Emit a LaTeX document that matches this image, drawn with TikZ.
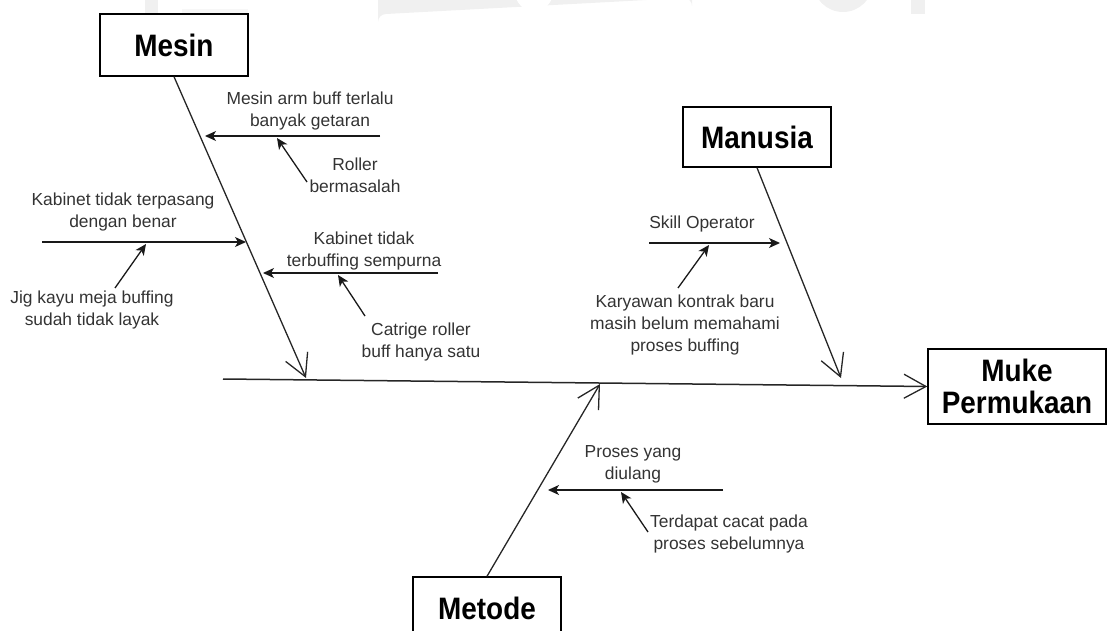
\documentclass[tikz,border=0pt]{standalone}
\usepackage{fontspec}
\setmainfont{Liberation Sans}
\newfontfamily\titlefont[FakeStretch=0.9]{Liberation Sans}
\usetikzlibrary{arrows.meta}
\begin{document}
\begin{tikzpicture}[x=1pt,y=-1pt,
  titlebox/.style={draw=black, line width=1.4pt, fill=white, inner sep=0pt,
    font=\titlefont\fontsize{31}{32}\selectfont\bfseries, align=center},
  cause/.style={font=\fontsize{17.4}{22}\selectfont, text=black!80,
    align=center, inner sep=0pt},
  spine/.style={line width=1.3pt, draw=black!85,
    -{Straight Barb[length=22pt,width=24pt,line width=1.3pt]}},
  branch/.style={line width=1.3pt, draw=black!90,
    -{Stealth[length=11pt,width=10pt,inset=3pt]}},
  logofill/.style={fill=black!6, draw=none}]
\useasboundingbox (0,0) rectangle (1109,631);
\clip (0,0) rectangle (1109,631);

% faint logo in the top margin
\fill[logofill] (145,0) rectangle (158,14);
\fill[black!3] (182,9) rectangle (248,14);
\fill[logofill] (378,0) -- (692,0) -- (692,6) arc[start angle=0,end angle=-90,radius=8]
  -- (386,14) arc[start angle=-90,end angle=-180,radius=8] -- cycle;
\fill[white] (534,-8) circle[radius=19];
\fill[logofill] (843,-18) circle[radius=30];
\fill[logofill] (911,0) rectangle (925,14);

% category boxes and effect box
\node[titlebox, minimum width=148pt, minimum height=62pt] (mesin) at (174,45) {Mesin};
\node[titlebox, minimum width=148pt, minimum height=60pt] (manusia) at (757,137) {Manusia};
\node[titlebox, minimum width=178pt, minimum height=75pt] (muke) at (1017,386.5) {Muke\\Permukaan};
\node[titlebox, minimum width=148pt, minimum height=62pt] (metode) at (487,608) {Metode};

% backbone
\coordinate (tail) at (223,379);
\draw[spine, line width=1.5pt] (tail) -- (muke.west);

% category spines
\coordinate (mesintip) at (306,378);
\coordinate (manusiatip) at (841,378);
\coordinate (metodetip) at (600,384);
\draw[spine] (mesin.south) -- (mesintip);
\draw[spine] (manusia.south) -- (manusiatip);
\draw[spine] (metode.north) -- (metodetip);

% cause labels
\node[cause] (c1) at (310,111) {Mesin arm buff terlalu\\banyak getaran};
\node[cause] (c1a) at (355,175) {Roller\\bermasalah};
\node[cause] (c2) at (123,212) {Kabinet tidak terpasang\\dengan benar};
\node[cause] (c2a) at (92,310) {Jig kayu meja buffing\\sudah tidak layak};
\node[cause] (c3) at (364,251) {Kabinet tidak\\terbuffing sempurna};
\node[cause] (c3a) at (421,342) {Catrige roller\\buff hanya satu};
\node[cause] (c4) at (702,224) {Skill Operator};
\node[cause] (c4a) at (685,325) {Karyawan kontrak baru\\masih belum memahami\\proses buffing};
\node[cause] (c5) at (633,464) {Proses yang\\diulang};
\node[cause] (c5a) at (729,534) {Terdapat cacat pada\\proses sebelumnya};

% cause branches
\coordinate (b1s) at (380,136); \coordinate (b1e) at (205,136);
\coordinate (b2s) at (42,242);  \coordinate (b2e) at (246,242);
\coordinate (b3s) at (438,273); \coordinate (b3e) at (263,273);
\coordinate (b4s) at (649,243); \coordinate (b4e) at (780,243);
\coordinate (b5s) at (723,490); \coordinate (b5e) at (548,490);
\draw[branch] (b1s) -- (b1e);
\draw[branch] (b2s) -- (b2e);
\draw[branch] (b3s) -- (b3e);
\draw[branch] (b4s) -- (b4e);
\draw[branch] (b5s) -- (b5e);

% sub-cause arrows
\coordinate (s1s) at (307,182); \coordinate (s1e) at (277,138);
\coordinate (s2s) at (115,288); \coordinate (s2e) at (146,244);
\coordinate (s3s) at (365,316); \coordinate (s3e) at (338,275);
\coordinate (s4s) at (678,288); \coordinate (s4e) at (709,245);
\coordinate (s5s) at (648,532); \coordinate (s5e) at (621,492);
\draw[branch] (s1s) -- (s1e);
\draw[branch] (s2s) -- (s2e);
\draw[branch] (s3s) -- (s3e);
\draw[branch] (s4s) -- (s4e);
\draw[branch] (s5s) -- (s5e);
\end{tikzpicture}
\end{document}
